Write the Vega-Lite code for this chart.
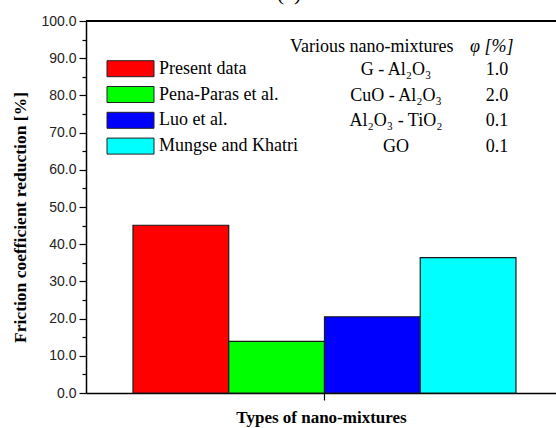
{
  "$schema": "https://vega.github.io/schema/vega-lite/v6.json",
  "width": 470,
  "height": 372,
  "autosize": {"type": "none"},
  "padding": {"left": 86, "top": 21, "right": 0, "bottom": 35},
  "background": "white",
  "title": {"text": "(a)", "font": "Liberation Serif", "fontSize": 22, "fontWeight": "normal", "color": "#000", "offset": 9, "dx": -32},
  "config": {"view": {"stroke": null}, "font": "Liberation Serif"},
  "data": {"values": [
    {"type": "Types of nano-mixtures", "source": "Present data", "mixture": "G - Al₂O₃", "phi": 1.0, "reduction": 45.1},
    {"type": "Types of nano-mixtures", "source": "Pena-Paras et al.", "mixture": "CuO - Al₂O₃", "phi": 2.0, "reduction": 13.9},
    {"type": "Types of nano-mixtures", "source": "Luo et al.", "mixture": "Al₂O₃ - TiO₂", "phi": 0.1, "reduction": 20.5},
    {"type": "Types of nano-mixtures", "source": "Mungse and Khatri", "mixture": "GO", "phi": 0.1, "reduction": 36.4}
  ]},
  "encoding": {
    "x": {"field": "type", "type": "nominal",
      "scale": {"paddingInner": 0, "paddingOuter": 0.1136, "align": 0.54},
      "axis": {"labels": false, "ticks": true, "tickSize": 7, "tickColor": "#000", "tickWidth": 1.2, "domainColor": "#000", "domainWidth": 1.5,
        "title": "Types of nano-mixtures", "titleFont": "Liberation Serif", "titleFontWeight": "bold", "titleFontSize": 17, "titleColor": "#000", "titlePadding": 9}},
    "y": {"field": "reduction", "type": "quantitative",
      "scale": {"domain": [0, 100], "nice": false},
      "axis": {"values": [0,5,10,15,20,25,30,35,40,45,50,55,60,65,70,75,80,85,90,95,100],
        "labelExpr": "datum.value % 10 === 0 ? format(datum.value, '.1f') : ''",
        "grid": false, "tickColor": "#000", "tickWidth": 1.2,
        "tickSize": {"condition": {"test": "datum.value % 10 !== 0", "value": 4}, "value": 7},
        "domainColor": "#000", "domainWidth": 1.5,
        "labelFont": "Liberation Sans", "labelFontSize": 14, "labelColor": "#222", "labelPadding": 3,
        "title": "Friction coefficient reduction [%]", "titleFont": "Liberation Serif", "titleFontWeight": "bold", "titleFontSize": 17.5, "titleColor": "#000", "titlePadding": 11, "titleY": 196}}
  },
  "layer": [
    {
      "mark": {"type": "rule", "color": "#000", "strokeWidth": 1.5},
      "encoding": {"y": {"datum": 100}, "x": null}
    },
    {
      "mark": {"type": "bar", "stroke": "#1a1a1a", "strokeWidth": 1.2},
      "encoding": {
        "xOffset": {"field": "source", "type": "nominal", "sort": null, "scale": {"paddingInner": 0, "paddingOuter": 0}},
        "color": {"field": "source", "type": "nominal", "sort": null,
          "scale": {"range": ["#ff0000", "#00ff00", "#0000ff", "#00ffff"]},
          "legend": {"orient": "none", "legendX": 35.5, "legendY": 38.7, "title": null,
            "symbolType": "M-2.9375,-1H2.9375V1H-2.9375Z", "symbolSize": 256, "symbolStrokeColor": "#222", "symbolStrokeWidth": 1,
            "labelFont": "Liberation Serif", "labelFontSize": 18, "labelColor": "#000", "labelOffset": 19.5, "rowPadding": 5.8}}
      }
    },
    {
      "mark": {"type": "point", "opacity": 0},
      "encoding": {
        "shape": {"field": "mixture", "type": "nominal", "sort": null,
          "legend": {"orient": "none", "legendX": 204, "legendY": 17, "title": "Various nano-mixtures",
            "titleFont": "Liberation Serif", "titleFontSize": 18, "titleFontWeight": "normal", "titleColor": "#000",
            "symbolOpacity": 0, "labelAlign": "center", "labelOffset": 88,
            "labelFont": "Liberation Serif", "labelFontSize": 18, "labelColor": "#000", "rowPadding": 7.5}}
      }
    },
    {
      "mark": {"type": "point", "opacity": 0},
      "encoding": {
        "size": {"field": "phi", "type": "quantitative",
          "scale": {"range": [100, 100]},
          "legend": {"orient": "none", "legendX": 384, "legendY": 17, "title": "φ [%]", "values": [1.0, 2.0, 0.1, 0.1], "format": ".1f",
            "titleFont": "Liberation Serif", "titleFontSize": 18, "titleFontWeight": "normal", "titleFontStyle": "italic", "titleColor": "#000",
            "symbolOpacity": 0, "labelAlign": "center", "labelOffset": 9,
            "labelFont": "Liberation Serif", "labelFontSize": 18, "labelColor": "#000", "rowPadding": 7.5}}
      }
    }
  ]
}
